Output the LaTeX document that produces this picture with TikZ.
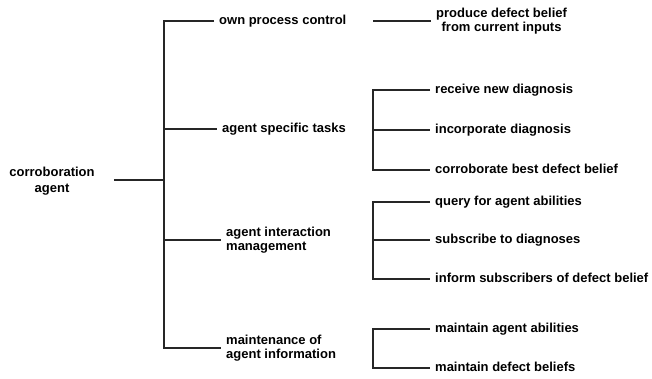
\documentclass[tikz,border=0pt]{standalone}
\usepackage{fontspec}
\setmainfont{Liberation Sans}
\begin{document}
\begin{tikzpicture}[x=1pt,y=-1pt,
  lblbase/.style={font=\fontsize{13}{14.5}\selectfont\bfseries, inner xsep=5pt, inner ysep=0pt, anchor=west, align=left},
  lbl/.style={lblbase, text height=9.3pt, text depth=2.7pt},
  lbltwo/.style={lblbase},
  conn/.style={draw=black!85, line width=1.1pt}]
\useasboundingbox (0,0) rectangle (652,379);
\node[font=\fontsize{13}{15.5}\selectfont\bfseries, align=center, inner sep=0pt] (root) at (52,181) {corroboration\\agent};
\coordinate (t) at (164,180);
\coordinate (j) at (373,180);
% level 1
\node[lbl] (own) at (214,21) {own process control};
\node[lbl] (ast) at (217,129) {agent specific tasks};
\node[lbltwo] (aim) at (221,240) {agent interaction\\management};
\node[lbltwo] (mai) at (221,348) {maintenance of\\agent information};
% level 2
\node[lbltwo, align=center] (prod) at (431,21) {produce defect belief\\from current inputs};
\node[lbl] (a1) at (430,90) {receive new diagnosis};
\node[lbl] (a2) at (430,130) {incorporate diagnosis};
\node[lbl] (a3) at (430,170) {corroborate best defect belief};
\node[lbl] (b1) at (430,202) {query for agent abilities};
\node[lbl] (b2) at (430,240) {subscribe to diagnoses};
\node[lbl] (b3) at (430,279) {inform subscribers of defect belief};
\node[lbl] (c1) at (430,329) {maintain agent abilities};
\node[lbl] (c2) at (430,368) {maintain defect beliefs};
% connectors
\draw[conn] ([xshift=19pt]root.east |- t) -- (t);
\draw[conn] (own.west) -| (mai.west -| t) -- (mai.west);
\draw[conn] (ast.west -| t) -- (ast.west);
\draw[conn] (aim.west -| t) -- (aim.west);
\draw[conn] (own.west -| j) -- (prod.west);
\draw[conn] (a1.west) -| (a3.west -| j) -- (a3.west);
\draw[conn] (a2.west -| j) -- (a2.west);
\draw[conn] (b1.west) -| (b3.west -| j) -- (b3.west);
\draw[conn] (b2.west -| j) -- (b2.west);
\draw[conn] (c1.west) -| (c2.west -| j) -- (c2.west);
\end{tikzpicture}
\end{document}
